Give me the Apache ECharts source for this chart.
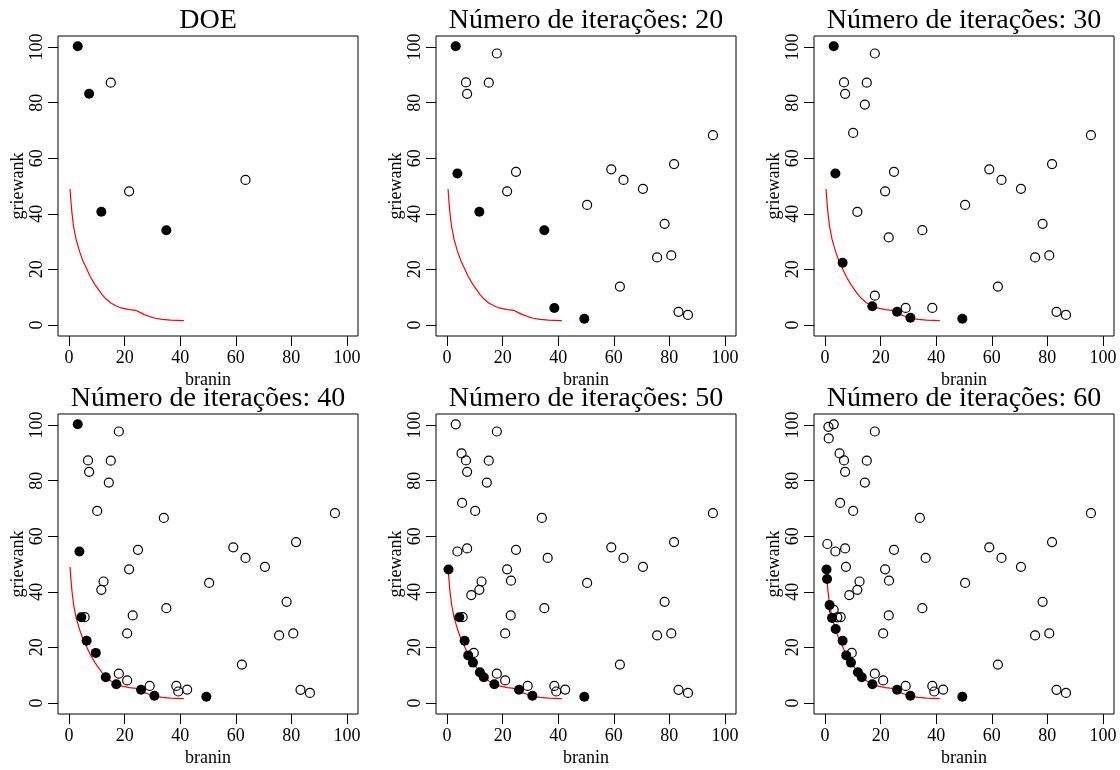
<!DOCTYPE html>
<html>
<head>
<meta charset="utf-8">
<script src="https://cdn.jsdelivr.net/npm/echarts@6/dist/echarts.min.js"></script>
<style>
html,body{margin:0;padding:0;background:#fff;}
#chart{width:1120px;height:770px;}
</style>
</head>
<body>
<div id="chart"></div>
<script>
// ---------- data ----------
const panelTitles = ['DOE', 'Número de iterações: 20', 'Número de iterações: 30',
  'Número de iterações: 40', 'Número de iterações: 50', 'Número de iterações: 60'];
const tickValues = [0, 20, 40, 60, 80, 100];
const xName = 'branin';
const yName = 'griewank';

// points [branin, griewank], grouped by the panel in which they first appear
const pointsDOE = [[3.1,100.3],[7.2,83.2],[15.0,87.2],[21.6,48.1],[11.6,40.7],[35.0,34.1],[63.5,52.2]];
const pointsNew20 = [[3.7,54.5],[38.6,6.1],[49.4,2.2],[17.9,97.7],[6.8,87.3],[24.8,55.1],[50.4,43.2],
  [59.1,56.0],[70.5,49.0],[81.7,57.9],[95.7,68.3],[78.3,36.4],[75.6,24.3],[80.7,25.0],[62.2,13.8],
  [83.3,4.7],[86.7,3.6]];
const pointsNew30 = [[14.3,79.3],[10.1,69.1],[22.9,31.5],[6.3,22.4],[17.0,6.7],[25.9,4.7],[30.7,2.6],
  [17.9,10.5],[29.0,6.1]];
const pointsNew40 = [[34.1,66.6],[12.4,43.7],[4.4,30.8],[5.6,30.9],[20.9,25.0],[9.6,18.0],[13.2,9.2],
  [20.9,8.1],[39.3,4.1],[42.5,4.8]];
const pointsNew50 = [[0.5,48.0],[7.6,17.1],[9.3,14.5],[11.8,11.0],[5.2,89.8],[5.4,72.0],[7.2,55.6],
  [36.2,52.2],[23.0,44.0],[8.7,38.8]];
const pointsNew60 = [[1.2,99.4],[1.3,95.2],[0.8,57.2],[7.5,49.0],[3.1,33.5],[0.7,44.6],[1.6,35.2],
  [2.5,30.6],[3.8,26.6]];

// true Pareto front (red curve)
const frontBranin = [0.35,0.5,0.7,1.0,1.6,2.5,3.8,5.0,6.3,7.6,9.3,11.8,13.2,15.0,17.0,18.7,21.7,24.1,
  25.5,27.1,29.0,31.0,33.5,36.5,41.3];
const frontGriewank = [48.9,46.5,44.0,40.5,35.5,30.8,26.3,23.0,20.2,17.4,14.5,11.0,9.4,7.9,6.8,6.1,5.5,5.2,
  4.5,3.7,3.0,2.4,2.0,1.7,1.5];

// ---------- build ----------
const groups = [pointsDOE, pointsNew20, pointsNew30, pointsNew40, pointsNew50, pointsNew60];
const FONT = 'Liberation Serif';
const lefts = [58, 436, 814];
const tops = [36, 414];
const W = 300, H = 300;

function isDominated(p, all) {
  return all.some(q => q[0] <= p[0] && q[1] <= p[1] && (q[0] < p[0] || q[1] < p[1]));
}

const frontData = frontBranin.map((x, i) => [x, frontGriewank[i]]);
const grid = [], xAxis = [], yAxis = [], series = [], title = [];
let cumulative = [];
for (let i = 0; i < 6; i++) {
  cumulative = cumulative.concat(groups[i]);
  const all = cumulative.slice();
  const col = i % 3, row = Math.floor(i / 3);
  grid.push({left: lefts[col], top: tops[row], width: W, height: H,
    show: true, borderColor: '#000', borderWidth: 1, backgroundColor: 'transparent'});
  title.push({text: panelTitles[i], left: lefts[col] + W / 2, top: row === 0 ? 7 : 385, textAlign: 'center',
    padding: 0,
    textStyle: {fontFamily: FONT, fontSize: 28, fontWeight: 'normal', color: '#000'}});
  xAxis.push({type: 'value', gridIndex: i, min: -4, max: 104,
    axisLine: {show: false, onZero: false},
    axisTick: {show: true, customValues: tickValues, length: 10, lineStyle: {color: '#000', width: 1}},
    axisLabel: {customValues: tickValues, fontFamily: FONT, fontSize: 18, color: '#000', margin: 13},
    splitLine: {show: false},
    name: xName, nameLocation: 'middle', nameGap: 35,
    nameTextStyle: {fontFamily: FONT, fontSize: 18, color: '#000'}});
  yAxis.push({type: 'value', gridIndex: i, min: -4, max: 104,
    axisLine: {show: false, onZero: false},
    axisTick: {show: true, customValues: tickValues, length: 10, lineStyle: {color: '#000', width: 1}},
    axisLabel: {customValues: tickValues, fontFamily: FONT, fontSize: 18, color: '#000', margin: 12, rotate: 90},
    splitLine: {show: false},
    name: yName, nameLocation: 'middle', nameGap: 30,
    nameTextStyle: {fontFamily: FONT, fontSize: 18, color: '#000'}});
  series.push({type: 'line', xAxisIndex: i, yAxisIndex: i, data: frontData, showSymbol: false,
    lineStyle: {color: '#ff0000', width: 1.2, opacity: 1}, silent: true, z: 2});
  const openPts = all.filter(p => isDominated(p, all));
  const filledPts = all.filter(p => !isDominated(p, all));
  series.push({type: 'scatter', xAxisIndex: i, yAxisIndex: i, data: openPts, symbol: 'circle', symbolSize: 9,
    itemStyle: {color: 'rgba(255,255,255,0)', borderColor: '#000', borderWidth: 1.2, opacity: 1},
    silent: true, z: 3});
  series.push({type: 'scatter', xAxisIndex: i, yAxisIndex: i, data: filledPts, symbol: 'circle', symbolSize: 10,
    itemStyle: {color: '#000', opacity: 1}, silent: true, z: 4});
}

const chart = echarts.init(document.getElementById('chart'), null, {renderer: 'canvas'});
chart.setOption({backgroundColor: '#fff', animation: false, title, grid, xAxis, yAxis, series});
</script>
</body>
</html>
